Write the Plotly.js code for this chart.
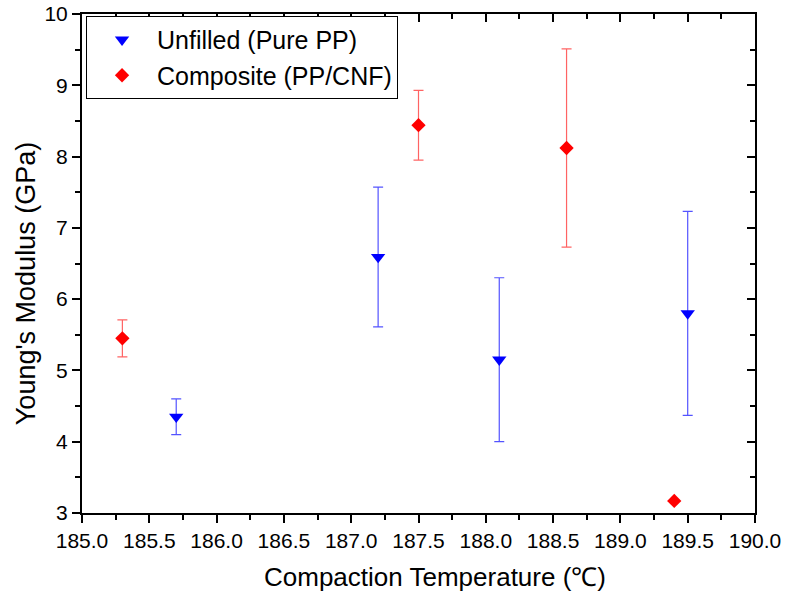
<!DOCTYPE html>
<html>
<head>
<meta charset="utf-8">
<script src="https://cdn.plot.ly/plotly-3.0.1.min.js"></script>
<style>html,body{margin:0;padding:0;background:#fff;}#chart{width:786px;height:592px;}</style>
</head>
<body>
<div id="chart"></div>
<script>
// Unfilled (Pure PP)
const unfilledTemp = [185.7, 187.2, 188.1, 189.5];
const unfilledModulus = [4.35, 6.59, 5.15, 5.80];
const unfilledError = [0.25, 0.98, 1.15, 1.43];
// Composite (PP/CNF)
const compositeTemp = [185.3, 187.5, 188.6, 189.4];
const compositeModulus = [5.45, 8.44, 8.12, 3.17];
const compositeError = [0.26, 0.49, 1.39, NaN];

const xTitle = 'Compaction Temperature (℃)';
const yTitle = "Young's Modulus (GPa)";

const FONT = 'Arial, "Liberation Sans", sans-serif';

const traces = [
  {
    name: 'Unfilled (Pure PP)',
    x: unfilledTemp, y: unfilledModulus,
    type: 'scatter', mode: 'markers',
    marker: {symbol: 'triangle-down', size: 12.5, color: '#0000ff'},
    error_y: {type: 'data', array: unfilledError, visible: true,
              color: 'rgba(40,40,255,0.8)', thickness: 1.2, width: 5}
  },
  {
    name: 'Composite (PP/CNF)',
    x: compositeTemp, y: compositeModulus,
    type: 'scatter', mode: 'markers',
    marker: {symbol: 'diamond', size: 11, color: '#ff0000'},
    error_y: {type: 'data', array: compositeError, visible: true,
              color: 'rgba(255,60,60,0.8)', thickness: 1.2, width: 5}
  },
  {
    x: [185], y: [3], xaxis: 'x2', yaxis: 'y2', type: 'scatter', mode: 'markers',
    marker: {opacity: 0}, showlegend: false, hoverinfo: 'skip'
  }
];

const axisCommon = {
  showgrid: false, zeroline: false, showline: true, linecolor: '#000', linewidth: 2,
  tickcolor: '#000', tickwidth: 2, ticklen: 8,
  tickfont: {family: FONT, size: 21, color: '#000'}
};

const layout = {
  width: 786, height: 592,
  margin: {l: 82, r: 31, t: 14, b: 79},
  paper_bgcolor: '#fff', plot_bgcolor: '#fff',
  font: {family: FONT, color: '#000'},
  showlegend: true,
  legend: {
    x: 0.006, y: 0.996, xanchor: 'left', yanchor: 'top',
    bordercolor: '#000', borderwidth: 1, bgcolor: '#fff',
    font: {family: FONT, size: 25, color: '#000'},
    itemwidth: 60
  },
  xaxis: Object.assign({}, axisCommon, {
    range: [185, 190], tick0: 185, dtick: 0.5, tickformat: '.1f', ticks: 'outside',
    minor: {ticks: 'outside', ticklen: 5, dtick: 0.25, tickwidth: 2, tickcolor: '#000'}
  }),
  yaxis: Object.assign({}, axisCommon, {
    range: [3, 10], tick0: 3, dtick: 1, ticks: 'outside',
    minor: {ticks: 'outside', ticklen: 5, dtick: 0.5, tickwidth: 2, tickcolor: '#000'}
  }),
  xaxis2: Object.assign({}, axisCommon, {
    overlaying: 'x', side: 'top', anchor: 'y2', matches: 'x',
    range: [185, 190], tick0: 185, dtick: 0.5, ticks: 'inside', showticklabels: false,
    minor: {ticks: 'inside', ticklen: 5, dtick: 0.25, tickwidth: 2, tickcolor: '#000'}
  }),
  yaxis2: Object.assign({}, axisCommon, {
    overlaying: 'y', side: 'right', anchor: 'x2',
    range: [3, 10], tick0: 3, dtick: 1, ticks: 'inside', showticklabels: false,
    minor: {ticks: 'inside', ticklen: 5, dtick: 0.5, tickwidth: 2, tickcolor: '#000'}
  }),
  annotations: [
    {text: xTitle, xref: 'paper', yref: 'paper', x: 0.5245, y: -0.129,
     xanchor: 'center', yanchor: 'middle', showarrow: false,
     font: {family: FONT, size: 26, color: '#000'}},
    {text: yTitle, xref: 'paper', yref: 'paper', x: -0.0832, y: 0.4586,
     xanchor: 'center', yanchor: 'middle', showarrow: false, textangle: -90,
     font: {family: FONT, size: 27, color: '#000'}}
  ]
};

Plotly.newPlot('chart', traces, layout, {displayModeBar: false, staticPlot: true});
</script>
</body>
</html>
